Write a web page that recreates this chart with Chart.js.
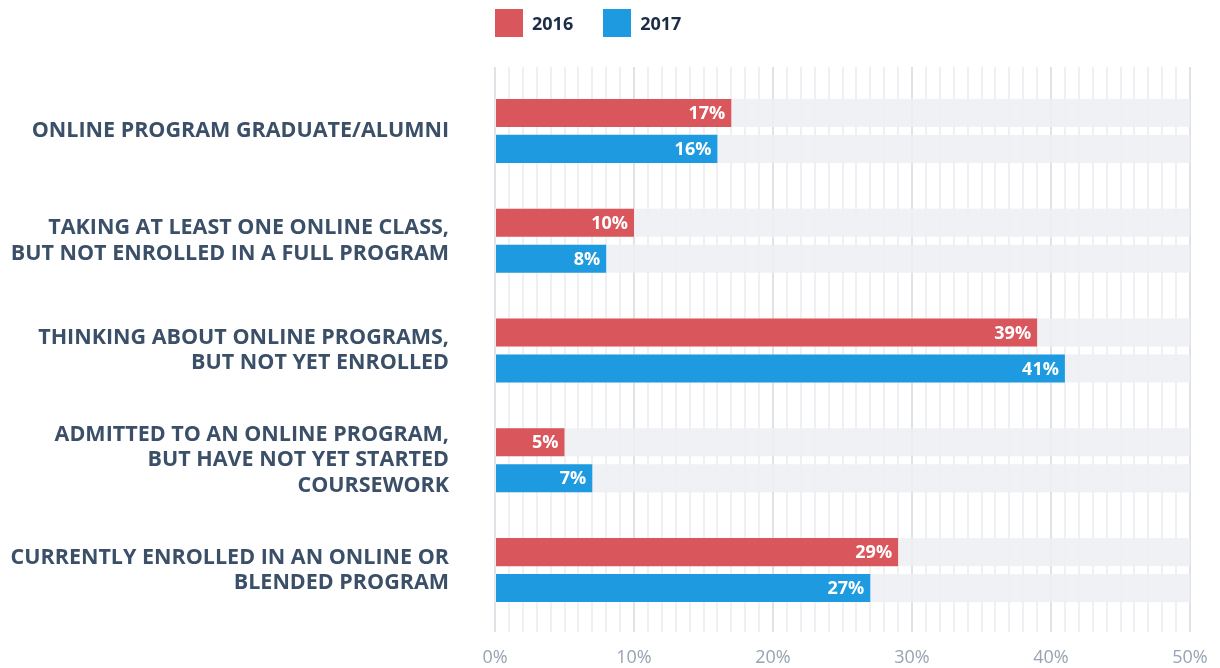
<!DOCTYPE html>
<html>
<head>
<meta charset="utf-8">
<script src="https://cdn.jsdelivr.net/npm/chart.js@4"></script>
<style>
  html, body { margin: 0; padding: 0; background: #fff; }
  #wrap { position: relative; width: 1220px; height: 668px; }
  #legend { position: absolute; left: 495px; top: 9px; display: flex; font-family: 'Open Sans', sans-serif; font-weight: 700; font-size: 18px; color: #1b2c45; }
  .item { display: flex; align-items: center; margin-right: 30px; }
  .box { width: 28px; height: 28px; margin-right: 9px; }
</style>
</head>
<body>
<div id="wrap">
  <canvas id="chart" width="1220" height="668"></canvas>
  <div id="legend"></div>
</div>
<script>
// Chart data
const categories = [
  ['ONLINE PROGRAM GRADUATE/ALUMNI'],
  ['TAKING AT LEAST ONE ONLINE CLASS,', 'BUT NOT ENROLLED IN A FULL PROGRAM'],
  ['THINKING ABOUT ONLINE PROGRAMS,', 'BUT NOT YET ENROLLED'],
  ['ADMITTED TO AN ONLINE PROGRAM,', 'BUT HAVE NOT YET STARTED', 'COURSEWORK'],
  ['CURRENTLY ENROLLED IN AN ONLINE OR', 'BLENDED PROGRAM']
];
const seriesNames = ['2016', '2017'];
const values2016 = [17, 10, 39, 5, 29];
const values2017 = [16, 8, 41, 7, 27];
const axisMax = 50;

const RED = '#d9565c';
const BLUE = '#1e9be0';

// HTML legend
const legend = document.getElementById('legend');
[[seriesNames[0], RED], [seriesNames[1], BLUE]].forEach(([name, color]) => {
  const item = document.createElement('div');
  item.className = 'item';
  item.innerHTML = `<span class="box" style="background:${color}"></span><span>${name}</span>`;
  legend.appendChild(item);
});

const gridColor = ctx => (ctx.tick && ctx.tick.value % 10 === 0) ? '#dfe3e8' : '#eef0f3';

// grey track behind every bar, out to the axis max
const trackPlugin = {
  id: 'tracks',
  beforeDatasetsDraw(chart) {
    const { ctx, scales: { x } } = chart;
    const x0 = x.getPixelForValue(0);
    const x1 = x.getPixelForValue(axisMax);
    ctx.save();
    ctx.fillStyle = 'rgba(238,239,242,0.88)';
    chart.data.datasets.forEach((ds, i) => {
      chart.getDatasetMeta(i).data.forEach(bar => {
        ctx.fillRect(x0, bar.y - bar.height / 2, x1 - x0, bar.height);
      });
    });
    ctx.restore();
  }
};

// white value labels at the end of each bar
const valueLabels = {
  id: 'valueLabels',
  afterDatasetsDraw(chart) {
    const { ctx } = chart;
    ctx.save();
    ctx.font = "700 18px 'Open Sans', sans-serif";
    ctx.fillStyle = '#ffffff';
    ctx.textAlign = 'right';
    ctx.textBaseline = 'middle';
    chart.data.datasets.forEach((ds, i) => {
      chart.getDatasetMeta(i).data.forEach((bar, j) => {
        ctx.fillText(ds.data[j] + '%', bar.x - 6, bar.y + 1);
      });
    });
    ctx.restore();
  }
};

new Chart(document.getElementById('chart'), {
  type: 'bar',
  data: {
    labels: categories,
    datasets: [
      { label: seriesNames[0], data: values2016, backgroundColor: RED },
      { label: seriesNames[1], data: values2017, backgroundColor: BLUE }
    ]
  },
  options: {
    indexAxis: 'y',
    responsive: false,
    animation: false,
    categoryPercentage: 0.655,
    barPercentage: 0.78,
    layout: { padding: { top: 67, right: 30, bottom: 2, left: 0 } },
    plugins: {
      legend: { display: false },
      tooltip: { enabled: false }
    },
    scales: {
      x: {
        position: 'bottom',
        min: 0,
        max: axisMax,
        ticks: {
          stepSize: 1,
          autoSkip: false,
          maxRotation: 0,
          padding: 15,
          color: '#96a4b3',
          font: { family: "'Open Sans', sans-serif", size: 18 },
          callback: v => v % 10 === 0 ? v + '%' : ''
        },
        grid: { color: gridColor, tickColor: gridColor, lineWidth: 2, tickLength: 7 },
        border: { display: false },
        afterFit(scale) {
          scale.height = 41;
          scale.paddingLeft = 0;
          scale.paddingRight = 0;
        }
      },
      xTop: {
        position: 'top',
        axis: 'x',
        min: 0,
        max: axisMax,
        ticks: { display: false, stepSize: 1, autoSkip: false },
        grid: { drawOnChartArea: false, tickColor: gridColor, lineWidth: 2, tickLength: 9 },
        border: { display: false },
        afterFit(scale) {
          scale.paddingLeft = 0;
          scale.paddingRight = 0;
        }
      },
      y: {
        grid: { display: false },
        border: { display: false },
        ticks: {
          padding: 38,
          color: '#3b5068',
          font: { family: "'Open Sans', sans-serif", size: 21.5, weight: '700', lineHeight: 1.18 }
        },
        afterFit(scale) {
          scale.width = 495;
          scale.paddingTop = 0;
          scale.paddingBottom = 0;
        }
      }
    }
  },
  plugins: [trackPlugin, valueLabels]
});
</script>
</body>
</html>
